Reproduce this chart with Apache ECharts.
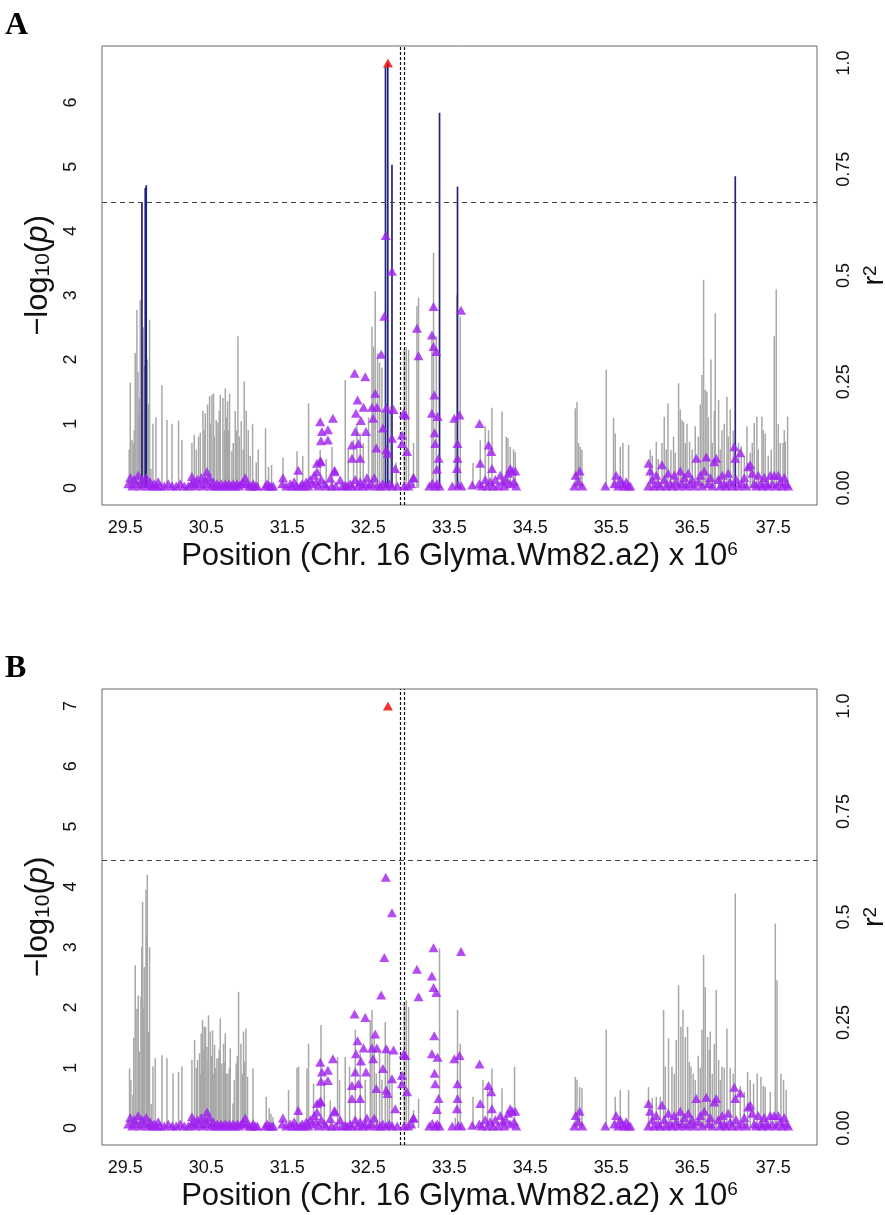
<!DOCTYPE html>
<html>
<head>
<meta charset="utf-8">
<script src="https://cdn.jsdelivr.net/npm/echarts@6/dist/echarts.min.js"></script>
<style>html,body{margin:0;padding:0;background:#fff}#c{width:885px;height:1215px}</style>
</head>
<body>
<div id="c"></div>
<script>
// ---------------- data ----------------
const xTicks = [29.5, 30.5, 31.5, 32.5, 33.5, 34.5, 35.5, 36.5, 37.5];
const yTicksA = [0, 1, 2, 3, 4, 5, 6];
const yTicksB = [0, 1, 2, 3, 4, 5, 6, 7];
const r2Ticks = [0, 0.25, 0.5, 0.75, 1];
const r2TickLabels = ['0.00', '0.25', '0.5', '0.75', '1.0'];
const threshold = 4.44;
const genePos = [32.895, 32.94];

// panel A : -log10(p) stems (gray)
const linesA = [
[29.549,0.6],[29.562,1.64],[29.583,0.75],[29.599,0.7],[29.611,0.9],[29.623,2.1],[29.644,2.77],[29.657,1.8],[29.664,1.2],[29.673,1.4],[29.685,2.93],[29.710,2.3],[29.722,2.5],[29.735,1.9],[29.772,2.0],[29.784,1.3],[29.800,2.62],[29.817,0.3],[29.842,1.0],[29.879,1.1],[29.953,1.6],[30.015,1.06],[30.077,1.0],[30.158,1.05],[30.200,0.75],
[30.323,0.7],[30.352,0.83],[30.377,0.6],[30.405,0.8],[30.426,0.86],[30.459,1.2],[30.475,0.9],[30.488,1.16],[30.516,1.3],[30.541,1.43],[30.549,1.0],[30.570,1.45],[30.590,1.47],[30.599,0.8],[30.623,1.06],[30.644,1.02],[30.660,1.2],[30.673,1.45],[30.706,1.4],[30.722,0.9],[30.735,1.55],[30.747,1.1],[30.763,1.35],[30.772,0.9],[30.788,1.47],[30.817,0.57],[30.833,0.7],[30.858,1.2],[30.870,0.9],[30.891,2.36],[30.907,0.8],[30.932,1.04],[30.957,0.6],[30.969,1.66],[30.994,1.2],[31.019,0.9],[31.043,0.5],[31.072,1.0],[31.117,0.4],[31.142,0.6],
[31.232,0.93],[31.269,0.33],[31.306,0.36],[31.447,0.47],[31.620,0.57],[31.691,0.5],[31.763,1.32],[31.907,0.59],[31.981,0.45],[32.052,0.64],[32.216,1.68],[32.253,0.6],[32.319,0.75],[32.360,1.0],[32.401,0.85],[32.438,0.7],[32.504,1.1],[32.546,2.51],[32.565,2.2],[32.586,3.06],[32.615,2.1],[32.640,1.95],[32.669,1.87],[32.689,1.2],[32.772,1.27],[32.846,0.4],[32.944,2.15],[32.969,2.2],[32.998,2.15],[33.059,0.7],[33.101,2.83],[33.121,2.96],[33.286,2.36],[33.306,3.66],[33.340,2.36],[33.574,1.1],[33.595,3.0],[33.636,2.67],[33.793,0.39],[33.883,0.75],[33.944,0.96],[33.985,0.9],[34.027,1.25],[34.151,1.19],[34.204,0.8],[34.225,0.78],[34.253,0.64],[34.294,0.6],[34.315,0.56],
[35.056,1.24],[35.077,1.34],[35.096,0.7],[35.117,0.64],[35.138,0.6],[35.438,1.84],[35.528,1.09],[35.549,0.85],[35.611,0.64],[35.644,0.7],[35.714,0.67],
[35.981,0.59],[36.006,0.5],[36.056,0.72],[36.080,0.45],[36.126,0.7],[36.154,1.11],[36.179,0.6],[36.200,1.32],[36.237,0.59],[36.269,0.8],[36.290,0.55],[36.331,1.63],[36.352,1.22],[36.373,1.06],[36.393,1.03],[36.414,0.7],[36.435,1.0],[36.467,0.72],[36.500,0.6],[36.537,0.96],[36.574,0.8],[36.599,1.3],[36.620,1.76],[36.640,3.24],[36.660,1.53],[36.681,1.5],[36.698,1.1],[36.731,2.0],[36.747,0.7],[36.772,1.2],[36.784,2.72],[36.825,1.37],[36.846,0.6],[36.867,0.9],[36.895,1.0],[36.928,1.42],[36.944,0.8],[36.969,1.22],[37.006,0.9],[37.072,0.7],[37.105,0.65],[37.142,0.5],[37.175,0.96],[37.216,0.55],[37.241,0.7],[37.265,1.01],[37.298,1.11],[37.315,0.6],[37.360,1.11],[37.377,0.9],[37.401,0.85],[37.438,0.5],[37.475,0.6],[37.512,2.36],[37.537,3.09],[37.562,1.0],[37.586,0.7],[37.620,0.7],[37.636,0.9],[37.648,0.72],[37.677,1.11]
];
// panel A : significant SNP stems (navy)
const sigA = [[29.706,4.44],[29.747,4.67],[29.759,4.71],[32.713,6.55],[32.741,6.61],[32.793,5.03],[33.380,5.84],[33.602,4.69],[37.031,4.85]];

// panel B : -log10(p) stems (gray)
const linesB = [
[29.553,0.99],[29.570,0.8],[29.595,0.55],[29.605,1.5],[29.623,2.7],[29.644,1.98],[29.660,2.2],[29.673,1.27],[29.694,2.18],[29.704,3.0],[29.714,3.75],[29.722,2.0],[29.735,2.67],[29.756,3.95],[29.765,3.2],[29.772,4.2],[29.784,1.6],[29.800,3.0],[29.821,0.4],[29.842,1.02],[29.870,1.16],[29.953,1.21],[30.015,1.16],[30.089,0.91],[30.158,0.93],[30.200,1.02],
[30.323,1.13],[30.356,1.46],[30.377,1.0],[30.393,1.13],[30.417,1.24],[30.426,0.9],[30.438,1.57],[30.454,1.79],[30.463,1.3],[30.475,1.68],[30.491,1.68],[30.509,1.35],[30.519,1.1],[30.528,1.87],[30.549,1.6],[30.562,1.2],[30.578,1.62],[30.586,0.9],[30.602,1.38],[30.617,1.0],[30.632,1.16],[30.652,1.16],[30.660,1.3],[30.673,1.82],[30.694,1.07],[30.714,1.4],[30.722,1.1],[30.735,1.57],[30.747,0.9],[30.768,0.91],[30.784,1.0],[30.796,1.32],[30.830,0.41],[30.846,0.8],[30.870,1.07],[30.883,1.2],[30.899,2.26],[30.928,1.4],[30.944,0.9],[30.960,1.6],[30.975,1.1],[30.990,1.65],[31.010,0.85],[31.077,0.99],
[31.241,0.52],[31.278,0.33],[31.299,0.24],[31.323,0.18],[31.516,0.63],[31.620,1.0],[31.640,1.02],[31.743,0.99],[31.763,1.4],[31.825,0.74],[31.916,1.71],[31.957,0.8],[32.031,0.46],[32.121,1.18],[32.146,0.8],[32.216,1.18],[32.269,1.02],[32.340,1.63],[32.401,1.24],[32.463,0.8],[32.525,1.79],[32.546,1.96],[32.574,1.51],[32.599,0.91],[32.640,1.27],[32.669,0.8],[32.710,1.76],[32.738,1.35],[32.763,1.24],[32.793,0.8],
[32.944,2.09],[32.969,2.12],[32.998,2.01],[33.059,0.3],[33.121,0.49],[33.380,2.98],[33.574,0.17],[33.602,1.96],[33.636,1.4],[33.793,0.52],[33.916,0.8],[33.973,0.68],[34.027,0.99],[34.151,0.66],[34.306,1.02],
[35.056,0.85],[35.077,0.8],[35.109,0.68],[35.138,0.66],[35.438,1.63],[35.549,0.52],[35.611,0.63],[35.714,0.63],
[35.960,0.68],[36.006,0.5],[36.056,0.52],[36.105,0.52],[36.146,1.96],[36.167,1.02],[36.207,1.49],[36.249,1.02],[36.278,0.9],[36.302,1.46],[36.331,2.37],[36.360,1.68],[36.385,1.96],[36.414,1.51],[36.442,1.68],[36.463,1.1],[36.484,1.02],[36.512,0.9],[36.537,0.8],[36.574,1.2],[36.599,1.0],[36.620,1.63],[36.640,2.87],[36.660,2.34],[36.689,1.51],[36.710,1.3],[36.722,1.6],[36.747,0.9],[36.772,1.4],[36.796,2.29],[36.825,1.13],[36.846,0.8],[36.867,1.02],[36.895,1.0],[36.928,1.65],[36.969,1.0],[37.006,0.9],[37.031,3.89],[37.093,0.7],[37.142,0.6],[37.183,0.93],[37.216,0.8],[37.257,0.74],[37.302,0.9],[37.348,0.85],[37.377,0.7],[37.401,0.68],[37.463,0.6],[37.525,3.39],[37.546,2.45],[37.595,0.9],[37.627,0.8],[37.660,0.63]
];

// LD (r^2 with lead SNP) triangles, shared by both panels
const ldR2 = [
[29.537,.01],[29.562,.025],[29.586,.005],[29.611,.02],[29.636,.01],[29.660,.03],[29.685,.005],[29.710,.02],[29.735,.01],[29.759,.025],[29.784,.005],[29.808,.015],[29.833,.005],[29.858,.01],[29.883,.005],[29.907,.015],[29.932,.005],[29.981,.005],[30.031,.01],[30.080,.005],[30.130,.005],[30.179,.01],[30.228,.005],[30.278,.005],
[30.315,.01],[30.323,.027],[30.340,.015],[30.364,.005],[30.389,.02],[30.414,.01],[30.438,.025],[30.463,.005],[30.488,.02],[30.509,.038],[30.512,.01],[30.537,.025],[30.562,.005],[30.586,.015],[30.611,.005],[30.636,.01],[30.660,.005],[30.685,.01],[30.710,.005],[30.735,.01],[30.759,.005],[30.784,.01],[30.809,.005],[30.833,.01],[30.858,.005],[30.883,.01],[30.907,.005],[30.932,.01],[30.957,.015],[30.981,.024],[31.006,.01],[31.031,.005],[31.056,.005],[31.080,.01],[31.105,.005],[31.130,.005],
[31.228,.005],[31.253,.01],[31.278,.005],[31.302,.005],[31.327,.005],
[31.438,.01],[31.447,.024],[31.488,.005],[31.537,.01],[31.562,.005],[31.586,.015],[31.611,.005],[31.636,.042],[31.660,.005],[31.685,.01],[31.710,.005],[31.735,.015],[31.760,.005],[31.784,.02],[31.809,.01],[31.833,.03],[31.858,.015],[31.867,.058],[31.883,.005],[31.907,.064],[31.920,.02],[31.957,.01],[31.981,.005],[32.031,.023],[32.050,.005],[32.084,.042],[32.100,.005],
[32.154,.019],[32.180,.005],[32.216,.007],[32.240,.005],[32.278,.01],[32.300,.005],[32.340,.02],[32.370,.005],[32.401,.015],[32.430,.005],[32.463,.01],[32.484,.024],[32.510,.005],[32.540,.01],[32.574,.024],[32.610,.005],[32.648,.005],[32.680,.01],[32.722,.005],[32.760,.01],[32.796,.005],[32.858,.005],[32.944,.005],[32.994,.005],[33.030,.01],[33.056,.024],
[33.253,.005],[33.290,.011],[33.330,.005],[33.352,.01],[33.380,.005],
[33.537,.005],[33.611,.007],[33.650,.005],[33.784,.007],[33.870,.01],[33.900,.005],[33.944,.02],[33.970,.005],[34.006,.015],[34.040,.005],[34.068,.02],[34.100,.005],[34.130,.03],[34.160,.015],[34.179,.005],[34.200,.02],[34.228,.035],[34.253,.01],[34.278,.04],[34.300,.015],[34.327,.005],
[35.043,.005],[35.060,.03],[35.093,.015],[35.110,.04],[35.142,.005],
[35.426,.005],[35.537,.01],[35.560,.03],[35.586,.005],[35.611,.02],[35.636,.01],[35.660,.005],[35.685,.015],[35.710,.005],[35.735,.005],
[35.957,.005],[35.960,.058],[35.980,.04],[36.006,.02],[36.031,.005],[36.056,.03],[36.080,.01],[36.105,.005],[36.126,.055],[36.154,.02],[36.179,.005],[36.204,.035],[36.228,.01],[36.253,.005],[36.278,.03],[36.302,.015],[36.327,.005],[36.352,.04],[36.376,.01],[36.401,.025],[36.426,.005],[36.451,.035],[36.475,.01],[36.500,.02],[36.525,.005],[36.549,.07],[36.574,.015],[36.599,.03],[36.624,.005],[36.648,.04],[36.673,.073],[36.698,.01],[36.722,.025],[36.747,.005],[36.772,.062],[36.796,.07],[36.820,.02],[36.846,.005],[36.870,.03],[36.895,.01],[36.920,.005],[36.944,.035],[36.969,.015],[36.994,.005],[37.019,.097],[37.031,.07],[37.043,.02],[37.068,.005],[37.093,.083],[37.118,.01],[37.142,.025],[37.167,.005],[37.191,.05],[37.216,.055],[37.241,.035],[37.265,.01],[37.290,.005],[37.315,.03],[37.340,.01],[37.365,.005],[37.389,.025],[37.414,.01],[37.438,.005],[37.463,.03],[37.488,.01],[37.512,.03],[37.537,.005],[37.562,.03],[37.586,.015],[37.611,.005],[37.636,.025],[37.660,.01],[37.685,.005],
[31.928,.133],[31.907,.156],[32.002,.137],[32.002,.113],[31.916,.111],[32.064,.164],[31.916,.062],[31.867,.038],[32.084,.038],
[32.299,.07],[32.299,.101],[32.331,.27],[32.348,.176],[32.340,.133],[32.368,.207],[32.380,.105],[32.401,.07],[32.409,.159],[32.442,.19],[32.463,.262],[32.472,.133],
[32.546,.19],[32.560,.164],[32.586,.223],[32.599,.094],[32.607,.19],[32.660,.315],[32.681,.141],[32.698,.404],[32.716,.594],[32.722,.188],[32.722,.09],[32.738,.082],[32.793,.51],[32.793,.117],[32.812,.185],[32.833,.046],
[32.916,.125],[32.916,.105],[32.937,.176],[32.958,.172],[32.979,.086],[33.059,.024],[33.101,.376],[33.121,.311],
[33.306,.427],[33.286,.36],[33.306,.333],[33.340,.321],[33.315,.219],[33.286,.176],[33.356,.168],[33.319,.13],[33.327,.105],[33.368,.07],[33.348,.044],
[33.562,.164],[33.627,.172],[33.645,.418],[33.602,.105],[33.602,.07],[33.595,.046],
[33.874,.152],[33.883,.058],[33.985,.101],[34.019,.086],[34.027,.046],[34.253,.046],[34.315,.04]
];
// lead SNP (r^2 = 1)
const leadSNP = [[32.743, 1.0]];

// ---------------- chart ----------------
const FONT = 'Liberation Sans, Arial, Helvetica, sans-serif';
const chart = echarts.init(document.getElementById('c'), null, {renderer: 'canvas'});

function stems(data, xi, yi, color, w, extra) {
  return Object.assign({
    type: 'custom', xAxisIndex: xi, yAxisIndex: yi, data: data, silent: true,
    encode: {x: 0, y: 1},
    renderItem: function (params, api) {
      const x = api.value(0), y = api.value(1);
      const a = api.coord([x, 0]);
      const b = api.coord([x, y]);
      return {type: 'line', shape: {x1: a[0], y1: a[1], x2: b[0], y2: b[1]},
        style: {stroke: color, lineWidth: w}};
    }
  }, extra || {});
}
function guides() {
  return {
    silent: true, symbol: 'none', label: {show: false}, animation: false,
    data: [
      {yAxis: threshold, lineStyle: {type: [5, 4], color: '#444', width: 1}},
      {xAxis: genePos[0], lineStyle: {type: [3, 2], color: '#111', width: 1.2}},
      {xAxis: genePos[1], lineStyle: {type: [3, 2], color: '#111', width: 1.2}}
    ]
  };
}
function xAxisCfg(gi) {
  return {
    type: 'value', gridIndex: gi, min: 29.213, max: 38.04,
    axisLine: {show: false}, axisTick: {show: false}, splitLine: {show: false},
    axisLabel: {customValues: xTicks, formatter: v => v.toFixed(1), fontSize: 18, color: '#111', fontFamily: FONT, margin: 14},
    name: '{t|Position (Chr. 16 Glyma.Wm82.a2) x 10}{s|6}',
    nameLocation: 'middle', nameGap: 35,
    nameTextStyle: {rich: {
      t: {fontSize: 31, fontFamily: FONT, color: '#111'},
      s: {fontSize: 19, fontFamily: FONT, color: '#111', verticalAlign: 'top', padding: [0, 0, 14, 0]}
    }}
  };
}
function leftY(gi, max, ticks) {
  return {
    type: 'value', gridIndex: gi, position: 'left', min: -0.04 * max, max: 1.04 * max,
    axisLine: {show: false}, axisTick: {show: false}, splitLine: {show: false},
    axisLabel: {customValues: ticks, rotate: 90, fontSize: 18, color: '#111', fontFamily: FONT, margin: 22},
    name: '{t|\u2212log}{s|10}{t|(}{i|p}{t|)}', nameLocation: 'middle', nameRotate: 90, nameGap: 46,
    nameTextStyle: {rich: {
      t: {fontSize: 31, fontFamily: FONT, color: '#111'},
      s: {fontSize: 21, fontFamily: FONT, color: '#111', verticalAlign: 'bottom'},
      i: {fontSize: 31, fontFamily: FONT, color: '#111', fontStyle: 'italic'}
    }}
  };
}
function rightY(gi) {
  return {
    type: 'value', gridIndex: gi, position: 'right', min: -0.04, max: 1.04,
    axisLine: {show: false}, axisTick: {show: false}, splitLine: {show: false},
    axisLabel: {customValues: r2Ticks, rotate: 90, fontSize: 18, color: '#111', fontFamily: FONT, margin: 18,
      formatter: v => r2TickLabels[r2Ticks.indexOf(v)]},
    name: '{t|r}{s|2}', nameLocation: 'middle', nameRotate: 90, nameGap: 41,
    nameTextStyle: {rich: {
      t: {fontSize: 29, fontFamily: FONT, color: '#111'},
      s: {fontSize: 19, fontFamily: FONT, color: '#111', verticalAlign: 'top'}
    }}
  };
}
const tri = (data, xi, yi, color, z) => ({
  type: 'scatter', xAxisIndex: xi, yAxisIndex: yi, data: data, symbol: 'triangle',
  symbolSize: [10, 9], itemStyle: {color: color}, z: z, silent: true
});

const option = {
  animation: false,
  backgroundColor: '#ffffff',
  title: [
    {text: 'A', left: 0, top: 5, textStyle: {fontFamily: 'Liberation Serif, Times New Roman, serif', fontWeight: 'bold', fontSize: 32, color: '#000'}},
    {text: 'B', left: 0, top: 648, textStyle: {fontFamily: 'Liberation Serif, Times New Roman, serif', fontWeight: 'bold', fontSize: 32, color: '#000'}}
  ],
  grid: [
    {left: 102, top: 46, width: 715, height: 459, show: true, borderColor: '#666', borderWidth: 1, backgroundColor: 'transparent', outerBoundsMode: 'none', containLabel: false},
    {left: 102, top: 689, width: 715, height: 456, show: true, borderColor: '#666', borderWidth: 1, backgroundColor: 'transparent', outerBoundsMode: 'none', containLabel: false}
  ],
  xAxis: [xAxisCfg(0), xAxisCfg(1)],
  yAxis: [leftY(0, 6.614, yTicksA), rightY(0), leftY(1, 7.0, yTicksB), rightY(1)],
  series: [
    stems(linesA, 0, 0, '#a8a8a8', 1.5, {z: 2, markLine: guides()}),
    stems(sigA, 0, 0, '#22227e', 1.7, {z: 3}),
    tri(ldR2, 0, 1, '#A020F0', 5),
    tri(leadSNP, 0, 1, '#ee0000', 6),
    stems(linesB, 1, 2, '#a8a8a8', 1.5, {z: 2, markLine: guides()}),
    tri(ldR2, 1, 3, '#A020F0', 5),
    tri(leadSNP, 1, 3, '#ee0000', 6)
  ]
};
chart.setOption(option);
</script>
</body>
</html>
